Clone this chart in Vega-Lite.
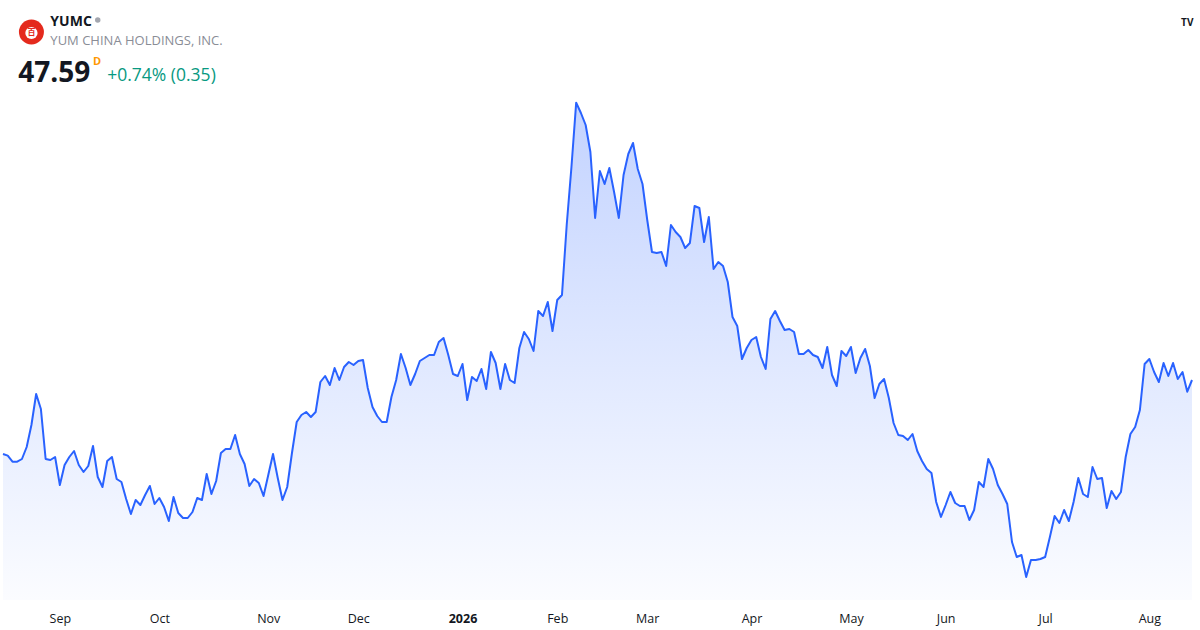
{
  "$schema": "https://vega.github.io/schema/vega-lite/v6.json",
  "width": 1189,
  "height": 510,
  "autosize": {"type": "none"},
  "padding": {"left": 3, "top": 90, "right": 8, "bottom": 30},
  "background": "#ffffff",
  "config": {"view": {"stroke": null}, "font": "Open Sans"},
  "data": {"values": [
    {"date": "2025-08-14", "close": 45.37}, {"date": "2025-08-15", "close": 45.32}, {"date": "2025-08-18", "close": 45.14}, {"date": "2025-08-19", "close": 45.14},
    {"date": "2025-08-20", "close": 45.22}, {"date": "2025-08-21", "close": 45.58}, {"date": "2025-08-22", "close": 46.24}, {"date": "2025-08-25", "close": 47.17},
    {"date": "2025-08-26", "close": 46.72}, {"date": "2025-08-27", "close": 45.22}, {"date": "2025-08-28", "close": 45.19}, {"date": "2025-08-29", "close": 45.28},
    {"date": "2025-09-02", "close": 44.44}, {"date": "2025-09-03", "close": 45.04}, {"date": "2025-09-04", "close": 45.28}, {"date": "2025-09-05", "close": 45.46},
    {"date": "2025-09-08", "close": 45.04}, {"date": "2025-09-09", "close": 44.83}, {"date": "2025-09-10", "close": 45.01}, {"date": "2025-09-11", "close": 45.61},
    {"date": "2025-09-12", "close": 44.68}, {"date": "2025-09-15", "close": 44.38}, {"date": "2025-09-16", "close": 45.16}, {"date": "2025-09-17", "close": 45.28},
    {"date": "2025-09-18", "close": 44.62}, {"date": "2025-09-19", "close": 44.53}, {"date": "2025-09-22", "close": 44.02}, {"date": "2025-09-23", "close": 43.57},
    {"date": "2025-09-24", "close": 43.99}, {"date": "2025-09-25", "close": 43.84}, {"date": "2025-09-26", "close": 44.14}, {"date": "2025-09-29", "close": 44.41},
    {"date": "2025-09-30", "close": 43.87}, {"date": "2025-10-01", "close": 44.05}, {"date": "2025-10-02", "close": 43.78}, {"date": "2025-10-03", "close": 43.36},
    {"date": "2025-10-06", "close": 44.08}, {"date": "2025-10-07", "close": 43.60}, {"date": "2025-10-08", "close": 43.45}, {"date": "2025-10-09", "close": 43.45},
    {"date": "2025-10-10", "close": 43.63}, {"date": "2025-10-13", "close": 44.05}, {"date": "2025-10-14", "close": 43.99}, {"date": "2025-10-15", "close": 44.77},
    {"date": "2025-10-16", "close": 44.17}, {"date": "2025-10-17", "close": 44.56}, {"date": "2025-10-20", "close": 45.40}, {"date": "2025-10-21", "close": 45.52},
    {"date": "2025-10-22", "close": 45.52}, {"date": "2025-10-23", "close": 45.94}, {"date": "2025-10-24", "close": 45.37}, {"date": "2025-10-27", "close": 45.07},
    {"date": "2025-10-28", "close": 44.41}, {"date": "2025-10-29", "close": 44.62}, {"date": "2025-10-30", "close": 44.50}, {"date": "2025-10-31", "close": 44.11},
    {"date": "2025-11-03", "close": 44.74}, {"date": "2025-11-04", "close": 45.37}, {"date": "2025-11-05", "close": 44.65}, {"date": "2025-11-06", "close": 43.99},
    {"date": "2025-11-07", "close": 44.38}, {"date": "2025-11-10", "close": 45.40}, {"date": "2025-11-11", "close": 46.33}, {"date": "2025-11-12", "close": 46.54},
    {"date": "2025-11-13", "close": 46.63}, {"date": "2025-11-14", "close": 46.48}, {"date": "2025-11-17", "close": 46.63}, {"date": "2025-11-18", "close": 47.53},
    {"date": "2025-11-19", "close": 47.71}, {"date": "2025-11-20", "close": 47.44}, {"date": "2025-11-21", "close": 47.95}, {"date": "2025-11-24", "close": 47.59},
    {"date": "2025-11-25", "close": 47.98}, {"date": "2025-11-26", "close": 48.13}, {"date": "2025-11-28", "close": 48.04}, {"date": "2025-12-01", "close": 48.16},
    {"date": "2025-12-02", "close": 48.19}, {"date": "2025-12-03", "close": 47.35}, {"date": "2025-12-04", "close": 46.78}, {"date": "2025-12-05", "close": 46.51},
    {"date": "2025-12-08", "close": 46.33}, {"date": "2025-12-09", "close": 46.33}, {"date": "2025-12-10", "close": 47.08}, {"date": "2025-12-11", "close": 47.59},
    {"date": "2025-12-12", "close": 48.37}, {"date": "2025-12-15", "close": 47.95}, {"date": "2025-12-16", "close": 47.44}, {"date": "2025-12-17", "close": 47.77},
    {"date": "2025-12-18", "close": 48.16}, {"date": "2025-12-19", "close": 48.25}, {"date": "2025-12-22", "close": 48.34}, {"date": "2025-12-23", "close": 48.34},
    {"date": "2025-12-24", "close": 48.73}, {"date": "2025-12-26", "close": 48.85}, {"date": "2025-12-29", "close": 48.34}, {"date": "2025-12-30", "close": 47.77},
    {"date": "2025-12-31", "close": 47.71}, {"date": "2026-01-02", "close": 48.07}, {"date": "2026-01-05", "close": 46.99}, {"date": "2026-01-06", "close": 47.68},
    {"date": "2026-01-07", "close": 47.56}, {"date": "2026-01-08", "close": 47.92}, {"date": "2026-01-09", "close": 47.32}, {"date": "2026-01-12", "close": 48.43},
    {"date": "2026-01-13", "close": 48.10}, {"date": "2026-01-14", "close": 47.32}, {"date": "2026-01-15", "close": 48.07}, {"date": "2026-01-16", "close": 47.59},
    {"date": "2026-01-20", "close": 47.50}, {"date": "2026-01-21", "close": 48.55}, {"date": "2026-01-22", "close": 49.03}, {"date": "2026-01-23", "close": 48.82},
    {"date": "2026-01-26", "close": 48.46}, {"date": "2026-01-27", "close": 49.66}, {"date": "2026-01-28", "close": 49.51}, {"date": "2026-01-29", "close": 49.93},
    {"date": "2026-01-30", "close": 49.06}, {"date": "2026-02-02", "close": 49.99}, {"date": "2026-02-03", "close": 50.14}, {"date": "2026-02-04", "close": 52.24},
    {"date": "2026-02-05", "close": 53.98}, {"date": "2026-02-06", "close": 55.91}, {"date": "2026-02-09", "close": 55.60}, {"date": "2026-02-10", "close": 55.24},
    {"date": "2026-02-11", "close": 54.43}, {"date": "2026-02-12", "close": 52.45}, {"date": "2026-02-13", "close": 53.86}, {"date": "2026-02-17", "close": 53.47},
    {"date": "2026-02-18", "close": 53.95}, {"date": "2026-02-19", "close": 53.23}, {"date": "2026-02-20", "close": 52.45}, {"date": "2026-02-23", "close": 53.74},
    {"date": "2026-02-24", "close": 54.37}, {"date": "2026-02-25", "close": 54.70}, {"date": "2026-02-26", "close": 53.92}, {"date": "2026-02-27", "close": 53.47},
    {"date": "2026-03-02", "close": 52.39}, {"date": "2026-03-03", "close": 51.43}, {"date": "2026-03-04", "close": 51.40}, {"date": "2026-03-05", "close": 51.43},
    {"date": "2026-03-06", "close": 51.01}, {"date": "2026-03-09", "close": 52.24}, {"date": "2026-03-10", "close": 52.03}, {"date": "2026-03-11", "close": 51.88},
    {"date": "2026-03-12", "close": 51.55}, {"date": "2026-03-13", "close": 51.70}, {"date": "2026-03-16", "close": 52.81}, {"date": "2026-03-17", "close": 52.75},
    {"date": "2026-03-18", "close": 51.73}, {"date": "2026-03-19", "close": 52.48}, {"date": "2026-03-20", "close": 50.92}, {"date": "2026-03-23", "close": 51.13},
    {"date": "2026-03-24", "close": 51.01}, {"date": "2026-03-25", "close": 50.53}, {"date": "2026-03-26", "close": 49.48}, {"date": "2026-03-27", "close": 49.21},
    {"date": "2026-03-30", "close": 48.22}, {"date": "2026-03-31", "close": 48.55}, {"date": "2026-04-01", "close": 48.79}, {"date": "2026-04-02", "close": 48.88},
    {"date": "2026-04-06", "close": 48.28}, {"date": "2026-04-07", "close": 47.92}, {"date": "2026-04-08", "close": 49.42}, {"date": "2026-04-09", "close": 49.66},
    {"date": "2026-04-10", "close": 49.36}, {"date": "2026-04-13", "close": 49.09}, {"date": "2026-04-14", "close": 49.12}, {"date": "2026-04-15", "close": 49.03},
    {"date": "2026-04-16", "close": 48.37}, {"date": "2026-04-17", "close": 48.37}, {"date": "2026-04-20", "close": 48.49}, {"date": "2026-04-21", "close": 48.34},
    {"date": "2026-04-22", "close": 48.28}, {"date": "2026-04-23", "close": 47.95}, {"date": "2026-04-24", "close": 48.58}, {"date": "2026-04-27", "close": 47.74},
    {"date": "2026-04-28", "close": 47.41}, {"date": "2026-04-29", "close": 48.46}, {"date": "2026-04-30", "close": 48.31}, {"date": "2026-05-01", "close": 48.58},
    {"date": "2026-05-04", "close": 47.80}, {"date": "2026-05-05", "close": 48.25}, {"date": "2026-05-06", "close": 48.52}, {"date": "2026-05-07", "close": 48.01},
    {"date": "2026-05-08", "close": 47.05}, {"date": "2026-05-11", "close": 47.47}, {"date": "2026-05-12", "close": 47.62}, {"date": "2026-05-13", "close": 47.05},
    {"date": "2026-05-14", "close": 46.30}, {"date": "2026-05-15", "close": 45.94}, {"date": "2026-05-18", "close": 45.91}, {"date": "2026-05-19", "close": 45.79},
    {"date": "2026-05-20", "close": 45.97}, {"date": "2026-05-21", "close": 45.46}, {"date": "2026-05-22", "close": 45.16}, {"date": "2026-05-26", "close": 44.92},
    {"date": "2026-05-27", "close": 44.80}, {"date": "2026-05-28", "close": 43.93}, {"date": "2026-05-29", "close": 43.48}, {"date": "2026-06-01", "close": 43.84},
    {"date": "2026-06-02", "close": 44.23}, {"date": "2026-06-03", "close": 43.90}, {"date": "2026-06-04", "close": 43.81}, {"date": "2026-06-05", "close": 43.81},
    {"date": "2026-06-08", "close": 43.39}, {"date": "2026-06-09", "close": 43.69}, {"date": "2026-06-10", "close": 44.53}, {"date": "2026-06-11", "close": 44.38},
    {"date": "2026-06-12", "close": 45.22}, {"date": "2026-06-15", "close": 44.92}, {"date": "2026-06-16", "close": 44.44}, {"date": "2026-06-17", "close": 44.17},
    {"date": "2026-06-18", "close": 43.87}, {"date": "2026-06-22", "close": 42.73}, {"date": "2026-06-23", "close": 42.28}, {"date": "2026-06-24", "close": 42.34},
    {"date": "2026-06-25", "close": 41.68}, {"date": "2026-06-26", "close": 42.19}, {"date": "2026-06-29", "close": 42.19}, {"date": "2026-06-30", "close": 42.22},
    {"date": "2026-07-01", "close": 42.28}, {"date": "2026-07-02", "close": 42.88}, {"date": "2026-07-06", "close": 43.51}, {"date": "2026-07-07", "close": 43.30},
    {"date": "2026-07-08", "close": 43.69}, {"date": "2026-07-09", "close": 43.36}, {"date": "2026-07-10", "close": 43.93}, {"date": "2026-07-13", "close": 44.65},
    {"date": "2026-07-14", "close": 44.17}, {"date": "2026-07-15", "close": 44.08}, {"date": "2026-07-16", "close": 44.98}, {"date": "2026-07-17", "close": 44.62},
    {"date": "2026-07-20", "close": 44.65}, {"date": "2026-07-21", "close": 43.75}, {"date": "2026-07-22", "close": 44.26}, {"date": "2026-07-23", "close": 44.02},
    {"date": "2026-07-24", "close": 44.23}, {"date": "2026-07-27", "close": 45.28}, {"date": "2026-07-28", "close": 45.97}, {"date": "2026-07-29", "close": 46.18},
    {"date": "2026-07-30", "close": 46.69}, {"date": "2026-07-31", "close": 48.07}, {"date": "2026-08-03", "close": 48.22}, {"date": "2026-08-04", "close": 47.83},
    {"date": "2026-08-05", "close": 47.53}, {"date": "2026-08-06", "close": 48.10}, {"date": "2026-08-07", "close": 47.71}, {"date": "2026-08-10", "close": 48.10},
    {"date": "2026-08-11", "close": 47.62}, {"date": "2026-08-12", "close": 47.83}, {"date": "2026-08-13", "close": 47.24}, {"date": "2026-08-14", "close": 47.59}
  ]},
  "encoding": {
    "x": {
      "field": "date",
      "type": "ordinal",
      "scale": {"type": "point", "padding": 0},
      "axis": {
        "title": null,
        "values": ["2025-09-02", "2025-10-01", "2025-11-03", "2025-12-01", "2026-01-02", "2026-02-02", "2026-03-02", "2026-04-01", "2026-05-01", "2026-06-01", "2026-07-01", "2026-08-03"],
        "labelExpr": "datum.value == '2026-01-02' ? '2026' : utcFormat(toDate(datum.value), '%b')",
        "labelFontWeight": {"condition": {"test": "datum.value == '2026-01-02'", "value": "bold"}, "value": "normal"},
        "labelAngle": 0,
        "labelAlign": "center",
        "labelBaseline": "alphabetic",
        "labelPadding": 22,
        "labelFontSize": 12.5,
        "labelColor": "#131722",
        "labelFont": "Open Sans",
        "domain": false,
        "ticks": false,
        "tickSize": 0,
        "grid": false,
        "zindex": 2
      }
    }
  },
  "layer": [
    {
      "mark": {
        "type": "area",
        "line": false,
        "fill": {
          "gradient": "linear",
          "x1": 0, "y1": 0, "x2": 0, "y2": 1,
          "stops": [
            {"offset": 0, "color": "#c3d3ff"},
            {"offset": 1, "color": "#fbfcff"}
          ]
        }
      },
      "encoding": {
        "y": {"field": "close", "type": "quantitative", "scale": {"domain": [40.99, 56.29], "zero": false, "nice": false}, "axis": null},
        "y2": {"datum": 40.99}
      }
    },
    {
      "mark": {"type": "line", "color": "#2962FF", "strokeWidth": 2, "strokeJoin": "round"},
      "encoding": {
        "y": {"field": "close", "type": "quantitative", "scale": {"domain": [40.99, 56.29], "zero": false, "nice": false}, "axis": null}
      }
    },
    {
      "data": {"values": [{"symbol": "YUMC"}]},
      "mark": {"type": "point", "filled": true, "shape": "circle", "size": 625, "color": "#e42a1d", "opacity": 1},
      "encoding": {
        "x": {"datum": "2025-08-22"},
        "y": {"datum": 58.03, "type": "quantitative", "scale": {"domain": [40.99, 56.29], "zero": false, "nice": false}}
      }
    },
    {
      "data": {"values": [{"symbol": "YUMC"}]},
      "mark": {"type": "point", "filled": true, "shape": "circle", "size": 150, "color": "#ffffff", "opacity": 1},
      "encoding": {
        "x": {"datum": "2025-08-22"},
        "y": {"datum": 58.0, "type": "quantitative", "scale": {"domain": [40.99, 56.29], "zero": false, "nice": false}}
      }
    },
    {
      "data": {"values": [{"label": "百"}]},
      "mark": {"type": "text", "align": "center", "baseline": "middle", "fontSize": 8, "fontWeight": "bold", "color": "#e42a1d", "font": "Noto Sans CJK SC"},
      "encoding": {
        "x": {"datum": "2025-08-22"},
        "y": {"datum": 58.0, "type": "quantitative", "scale": {"domain": [40.99, 56.29], "zero": false, "nice": false}},
        "text": {"field": "label"}
      }
    },
    {
      "data": {"values": [{"label": "YUMC"}]},
      "mark": {"type": "text", "align": "left", "baseline": "alphabetic", "fontSize": 14, "fontWeight": "bold", "color": "#131722", "font": "Open Sans"},
      "encoding": {
        "x": {"datum": "2025-08-28"},
        "y": {"datum": 58.21, "type": "quantitative", "scale": {"domain": [40.99, 56.29], "zero": false, "nice": false}},
        "text": {"field": "label"}
      }
    },
    {
      "data": {"values": [{"status": "closed"}]},
      "mark": {"type": "point", "filled": true, "shape": "circle", "size": 30, "color": "#a3a6af", "opacity": 1},
      "encoding": {
        "x": {"datum": "2025-09-12"},
        "y": {"datum": 58.39, "type": "quantitative", "scale": {"domain": [40.99, 56.29], "zero": false, "nice": false}}
      }
    },
    {
      "data": {"values": [{"label": "YUM CHINA HOLDINGS, INC."}]},
      "mark": {"type": "text", "align": "left", "baseline": "alphabetic", "fontSize": 13, "color": "#8a8d96", "font": "Open Sans"},
      "encoding": {
        "x": {"datum": "2025-08-28"},
        "y": {"datum": 57.64, "type": "quantitative", "scale": {"domain": [40.99, 56.29], "zero": false, "nice": false}},
        "text": {"field": "label"}
      }
    },
    {
      "data": {"values": [{"label": "47.59"}]},
      "mark": {"type": "text", "align": "left", "baseline": "alphabetic", "fontSize": 28, "fontWeight": "bold", "color": "#131722", "font": "Open Sans", "dx": 1},
      "encoding": {
        "x": {"datum": "2025-08-19"},
        "y": {"datum": 56.53, "type": "quantitative", "scale": {"domain": [40.99, 56.29], "zero": false, "nice": false}},
        "text": {"field": "label"}
      }
    },
    {
      "data": {"values": [{"label": "D"}]},
      "mark": {"type": "text", "align": "left", "baseline": "alphabetic", "fontSize": 11, "fontWeight": "bold", "color": "#ff9800", "font": "Open Sans"},
      "encoding": {
        "x": {"datum": "2025-09-11"},
        "y": {"datum": 57.04, "type": "quantitative", "scale": {"domain": [40.99, 56.29], "zero": false, "nice": false}},
        "text": {"field": "label"}
      }
    },
    {
      "data": {"values": [{"label": "+0.74% (0.35)"}]},
      "mark": {"type": "text", "align": "left", "baseline": "alphabetic", "fontSize": 17.5, "color": "#089981", "font": "Open Sans"},
      "encoding": {
        "x": {"datum": "2025-09-16"},
        "y": {"datum": 56.56, "type": "quantitative", "scale": {"domain": [40.99, 56.29], "zero": false, "nice": false}},
        "text": {"field": "label"}
      }
    },
    {
      "data": {"values": [{"label": "TV"}]},
      "mark": {"type": "text", "align": "center", "baseline": "middle", "fontSize": 10, "fontWeight": "bold", "color": "#131722", "font": "Open Sans"},
      "encoding": {
        "x": {"datum": "2026-08-13"},
        "y": {"datum": 58.3, "type": "quantitative", "scale": {"domain": [40.99, 56.29], "zero": false, "nice": false}},
        "text": {"field": "label"}
      }
    }
  ]
}
